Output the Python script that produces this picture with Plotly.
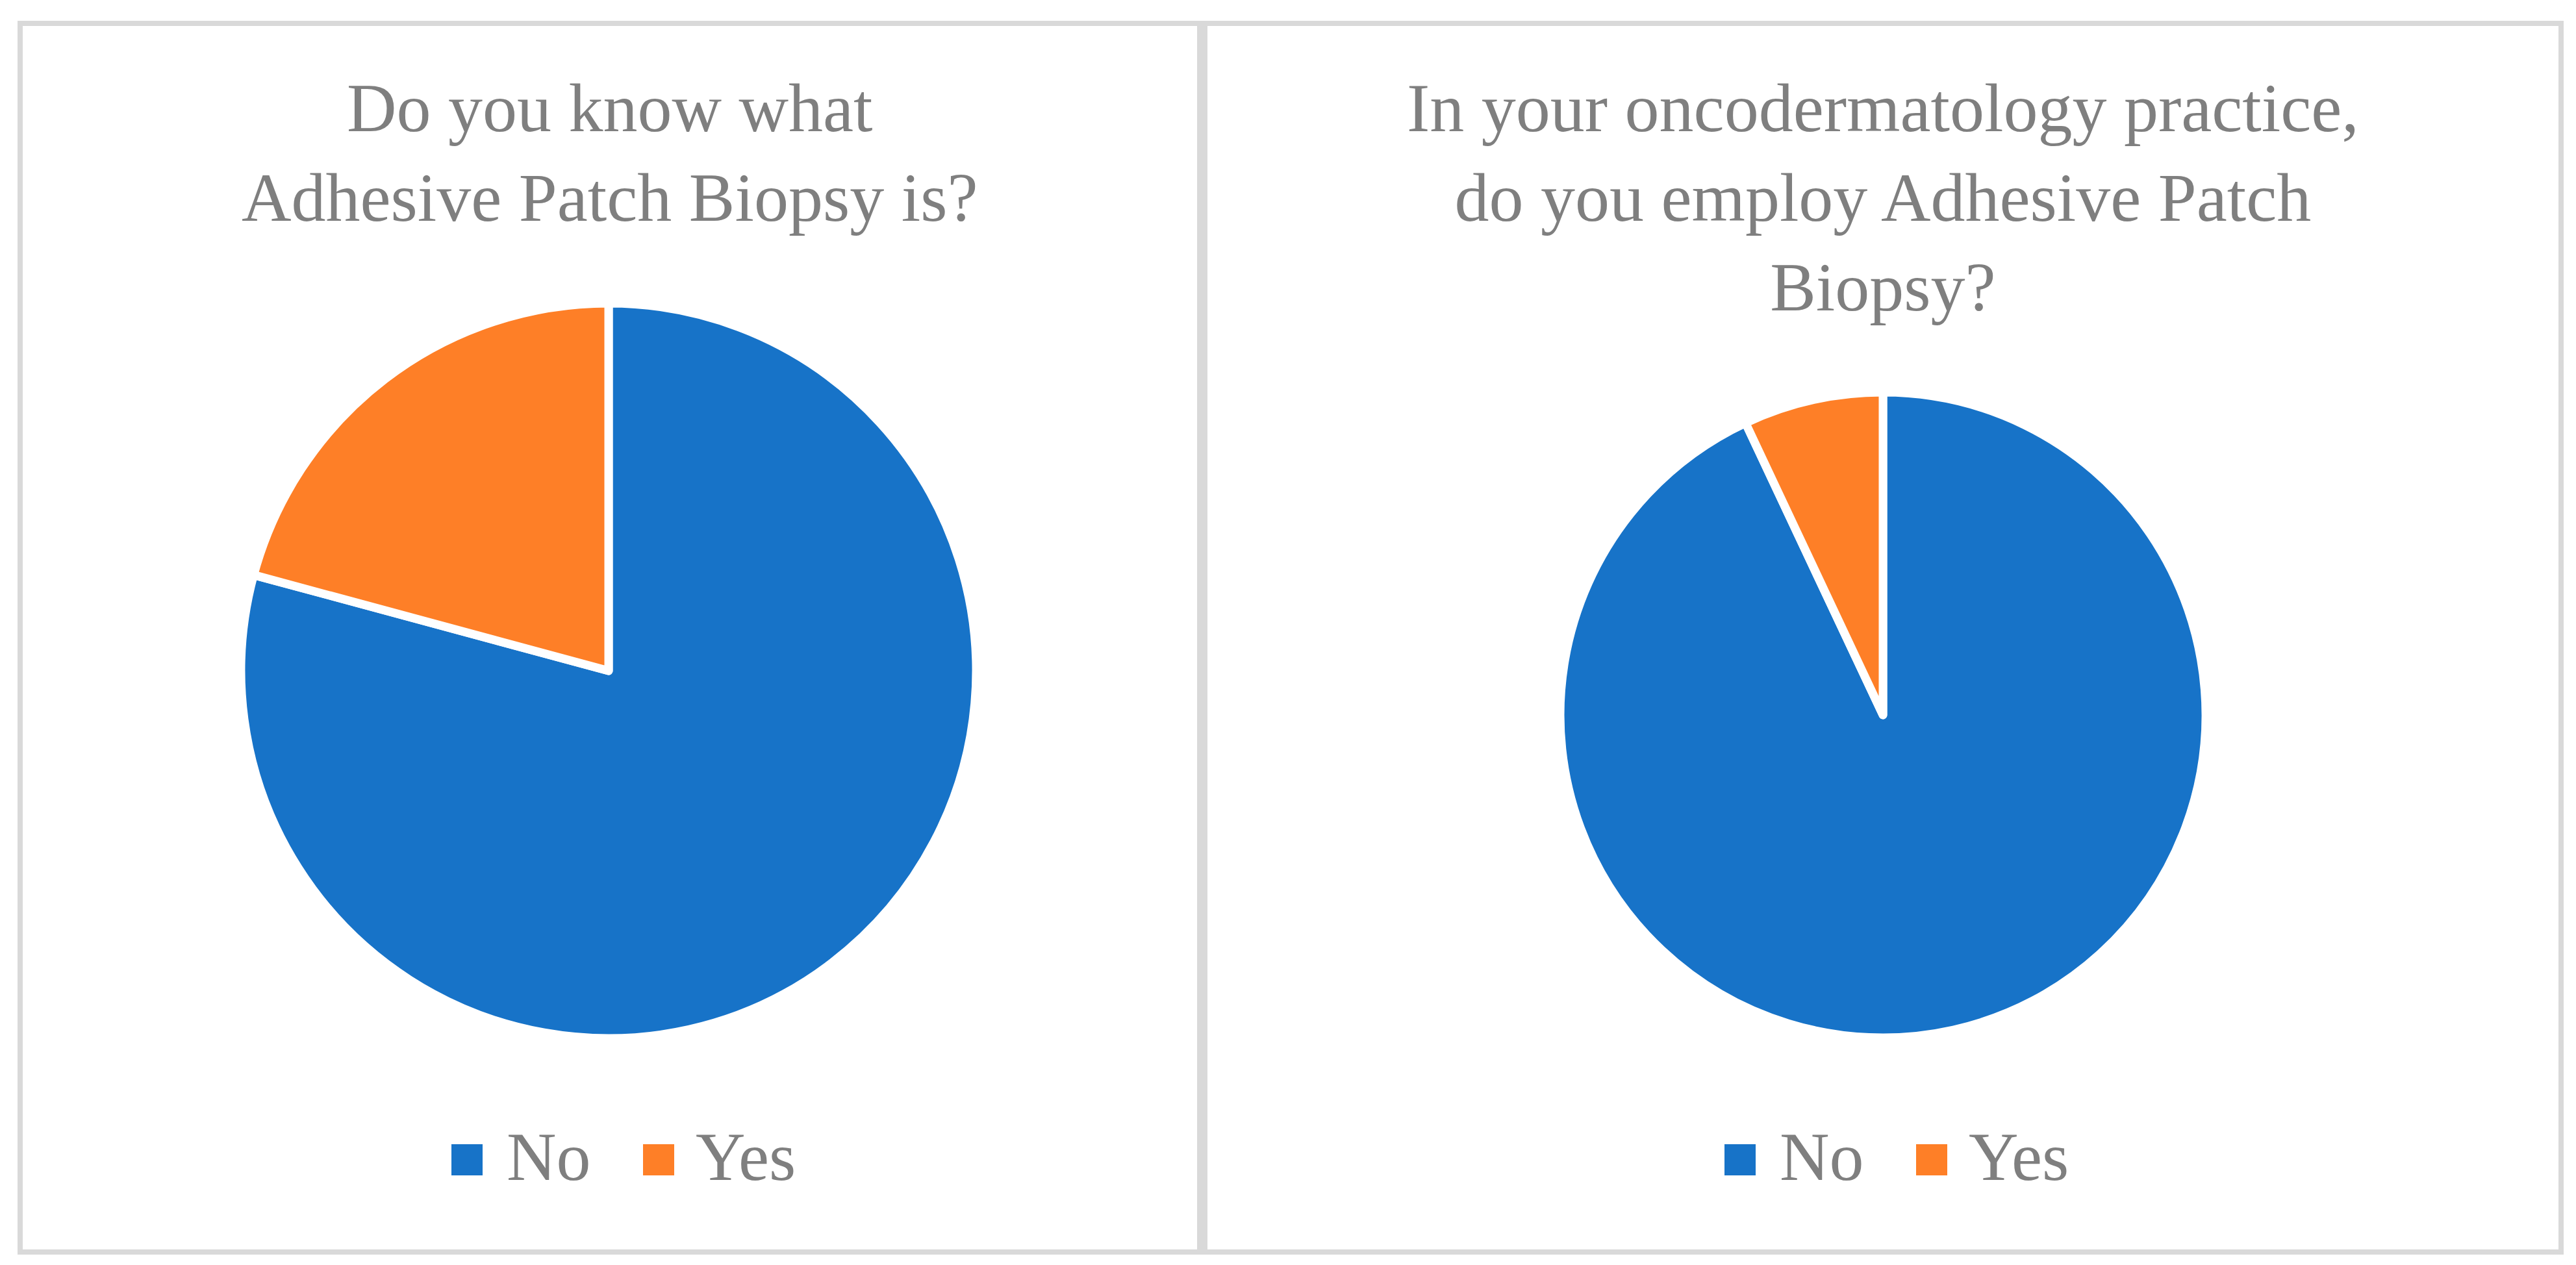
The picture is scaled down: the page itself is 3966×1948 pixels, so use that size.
import plotly.graph_objects as go

# ---- data ----
labels = ["No", "Yes"]
q1_values = [79.2, 20.8]
q2_values = [93.0, 7.0]
titles = [
    "Do you know what<br>Adhesive Patch Biopsy is?",
    "In your oncodermatology practice,<br>do you employ Adhesive Patch<br>Biopsy?",
]
colors = ["#1773c8", "#fe7f27"]

# ---- layout constants (pixels, in screenshot coordinates) ----
OFF = 8                      # default body margin of the html page
W, H = 3966 - 2 * OFF, 1948 - 2 * OFF
FONT = "Liberation Serif"
GRAY = "#7f7f7f"
BORDER = "#d9d9d9"
FS_TITLE = 106
FS_LEG = 106

def px(x):
    return (x - OFF) / W

def py(y):
    return 1 - (y - OFF) / H

fig = go.Figure()

# pie geometry: (center x, center y, radius) in px
pies = [(937, 1033, 566), (2899, 1101, 497)]
panel_centers = [939, 2899]
values = [q1_values, q2_values]

for i, ((cx, cy, r), vals) in enumerate(zip(pies, values)):
    fig.add_trace(go.Pie(
        labels=labels,
        values=vals,
        sort=False,
        direction="clockwise",
        rotation=0,
        textinfo="none",
        hoverinfo="label+percent",
        marker=dict(colors=colors, line=dict(color="white", width=13)),
        domain=dict(x=[px(cx - r), px(cx + r)], y=[py(cy + r), py(cy - r)]),
        showlegend=False,
    ))

shapes = []
# panel borders
shapes.append(dict(type="rect", xref="paper", yref="paper",
                   x0=px(31), x1=px(1847), y0=py(1928), y1=py(36),
                   line=dict(color=BORDER, width=8), fillcolor="rgba(0,0,0,0)"))
shapes.append(dict(type="rect", xref="paper", yref="paper",
                   x0=px(1855), x1=px(3943), y0=py(1928), y1=py(36),
                   line=dict(color=BORDER, width=8), fillcolor="rgba(0,0,0,0)"))

annotations = []
for i, pc in enumerate(panel_centers):
    annotations.append(dict(
        text=titles[i], xref="paper", yref="paper",
        x=px(pc), y=py(106), xanchor="center", yanchor="top",
        showarrow=False, align="center",
        font=dict(family=FONT, size=FS_TITLE, color=GRAY),
    ))
    # legend (manual, large swatches)
    offsets = [(-244, -161), (51, 130)]
    for lab, col, (sq, tx) in zip(labels, colors, offsets):
        shapes.append(dict(type="rect", xref="paper", yref="paper",
                           x0=px(pc + sq), x1=px(pc + sq + 48),
                           y0=py(1810), y1=py(1762),
                           fillcolor=col, line=dict(width=0)))
        annotations.append(dict(
            text=lab, xref="paper", yref="paper",
            x=px(pc + tx), y=py(1781), xanchor="left", yanchor="middle",
            showarrow=False,
            font=dict(family=FONT, size=FS_LEG, color=GRAY),
        ))

fig.update_layout(
    width=W, height=H,
    margin=dict(l=0, r=0, t=0, b=0),
    paper_bgcolor="white",
    plot_bgcolor="white",
    shapes=shapes,
    annotations=annotations,
    font=dict(family=FONT, color=GRAY),
)

fig.write_html("out.html")
